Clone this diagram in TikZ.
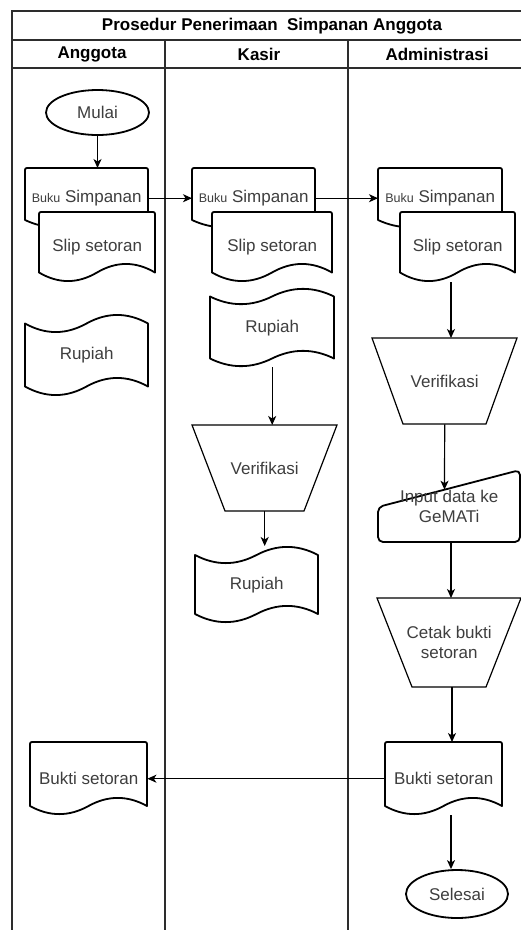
\documentclass[tikz,border=0pt]{standalone}
\usepackage{fontspec}
\setmainfont{Liberation Sans}
\usetikzlibrary{arrows.meta,calc,shapes.geometric}

\definecolor{txt}{RGB}{62,62,62}
\definecolor{framec}{RGB}{45,45,45}

\tikzset{
  box/.style={draw=none, inner sep=0pt, anchor=north west, align=center, text=txt,
              font=\fontsize{17}{20}\selectfont},
  shp/.style={draw=black, line width=1.8pt, fill=white, line join=round},
  thinshp/.style={draw=black, line width=1.2pt, fill=white, line join=miter},
  arr/.style={draw=black, line width=1.2pt, -{Stealth[length=9pt,width=8pt,inset=2.5pt]}},
  hdr/.style={inner sep=0pt, text=black, font=\fontsize{17}{20}\selectfont\bfseries},
  frameline/.style={draw=framec, line width=1.6pt},
  lanethick/.style={draw=framec, line width=2.2pt},
  lanethin/.style={draw=framec, line width=1.3pt},
  oval/.style={ellipse, draw=black, line width=1.8pt, fill=white, inner sep=0pt, text=txt,
               font=\fontsize{17}{20}\selectfont},
}

% document shape: name, x, y, w, h, dy, text
\newcommand{\DocNode}[7]{%
  \draw[shp] ({#2},{#3+#5-#6/2}) -- ({#2},{#3+4}) .. controls ({#2},{#3}) .. ({#2+4},{#3})
    -- ({#2+#4-4},{#3}) .. controls ({#2+#4},{#3}) .. ({#2+#4},{#3+4})
    -- ({#2+#4},{#3+#5-#6/2})
    .. controls ({#2+5*#4/6},{#3+#5-1.1*#6}) and ({#2+2*#4/3},{#3+#5-1.1*#6}) .. ({#2+#4/2},{#3+#5-#6/2})
    .. controls ({#2+#4/3},{#3+#5+0.1*#6}) and ({#2+#4/6},{#3+#5+0.1*#6}) .. ({#2},{#3+#5-#6/2}) -- cycle;
  \node[box, minimum width=#4pt, minimum height=#5pt] (#1) at (#2,#3) {#7};
}
% tape shape: name, x, y, w, h, dy, text
\newcommand{\TapeNode}[7]{%
  \draw[shp] ({#2},{#3+#6/2})
    .. controls ({#2+#4/6},{#3+1.1*#6}) and ({#2+#4/3},{#3+1.1*#6}) .. ({#2+#4/2},{#3+#6/2})
    .. controls ({#2+2*#4/3},{#3-0.1*#6}) and ({#2+5*#4/6},{#3-0.1*#6}) .. ({#2+#4},{#3+#6/2})
    -- ({#2+#4},{#3+#5-#6/2})
    .. controls ({#2+5*#4/6},{#3+#5-1.1*#6}) and ({#2+2*#4/3},{#3+#5-1.1*#6}) .. ({#2+#4/2},{#3+#5-#6/2})
    .. controls ({#2+#4/3},{#3+#5+0.1*#6}) and ({#2+#4/6},{#3+#5+0.1*#6}) .. ({#2},{#3+#5-#6/2}) -- cycle;
  \node[box, minimum width=#4pt, minimum height=#5pt] (#1) at (#2,#3) {#7};
}
% inverted trapezoid: name, x, y, w, h, inset, text
\newcommand{\TrapNode}[7]{%
  \draw[thinshp] ({#2},{#3}) -- ({#2+#4},{#3}) -- ({#2+#4-#6},{#3+#5}) -- ({#2+#6},{#3+#5}) -- cycle;
  \node[box, minimum width=#4pt, minimum height=#5pt] (#1) at (#2,#3) {#7};
}
\newcommand{\bk}{{\fontsize{12.5}{14}\selectfont Buku}}

\begin{document}
\begin{tikzpicture}[x=1pt,y=-1pt]
\fill[white] (0,0) rectangle (521,930);
\useasboundingbox (0,0) rectangle (521,930);

% ---------- pool frame ----------
\draw[frameline] (530,11) -- (12,11);
\draw[frameline] (12,40) -- (530,40);
\draw[frameline] (12,68) -- (530,68);
\draw[lanethick] (12,10) -- (12,930);
\draw[lanethick] (165,40) -- (165,930);
\draw[lanethin] (348,40) -- (348,930);

\node[hdr] (title) at (272,26) {Prosedur Penerimaan\ \ Simpanan Anggota};
\node[hdr] (hA) at (92,54) {Anggota};
\node[hdr] (hK) at (259,54) {Kasir};
\node[hdr] (hD) at (437,54) {Administrasi};

% ---------- Anggota ----------
\node[oval, minimum width=103pt, minimum height=45pt] (mulai) at (97.5,112.5) {Mulai};
\DocNode{bs1}{25}{168}{123}{60}{16}{\bk\ Simpanan}
\DocNode{slip1}{39}{212}{116}{70}{19}{Slip setoran}
\TapeNode{rup1}{25}{314}{123}{82}{19}{Rupiah}
\DocNode{bukti1}{30}{742}{117}{73}{18}{Bukti setoran}

% ---------- Kasir ----------
\DocNode{bs2}{192}{168}{123}{60}{16}{\bk\ Simpanan}
\DocNode{slip2}{212}{212}{120}{70}{19}{Slip setoran}
\TapeNode{rup2}{210}{288}{124}{79}{17}{Rupiah}
\TrapNode{ver2}{192}{425}{145}{86}{33}{Verifikasi}
\TapeNode{rup3}{195}{546}{123}{77}{18}{Rupiah}

% ---------- Administrasi ----------
\DocNode{bs3}{378}{168}{124}{60}{16}{\bk\ Simpanan}
\DocNode{slip3}{400}{212}{115}{70}{19}{Slip setoran}
\TrapNode{ver3}{372}{338}{145}{86}{31}{Verifikasi}
\draw[shp, rounded corners=5pt] (378,507) -- (520,470) -- (520,542) -- (378,542) -- cycle;
\node[box, minimum width=142pt, minimum height=72pt] (input) at (378,470) {Input data ke\\GeMATi};
\TrapNode{cetak}{377}{598}{144}{89}{35}{Cetak bukti\\setoran}
\DocNode{bukti3}{385}{742}{117}{73}{18}{Bukti setoran}
\node[oval, minimum width=102pt, minimum height=48pt] (selesai) at (457,894) {Selesai};

% ---------- connectors ----------
\coordinate (xA) at (451,0);
\coordinate (xB) at (452,0);
\coordinate (inslant) at (444.5,489.7);
\draw[arr] (mulai.south) -- (mulai.south |- bs1.north);
\draw[arr] (bs1.east) -- (bs2.west);
\draw[arr] (bs2.east) -- (bs3.west);
\draw[arr] (xA |- slip3.south) -- (xA |- ver3.north);
\draw[arr] (ver3.south) -- (inslant);
\draw[arr] (xA |- input.south) -- (xA |- cetak.north);
\draw[arr] (xB |- cetak.south) -- (xB |- bukti3.north);
\draw[arr] (bukti3.west) -- (bukti1.east);
\draw[arr] (xA |- bukti3.south) -- (xA |- selesai.north);
\draw[arr] (rup2.south) -- (rup2.south |- ver2.north);
\draw[arr] (ver2.south) -- (ver2.south |- rup3.north);
\end{tikzpicture}
\end{document}
